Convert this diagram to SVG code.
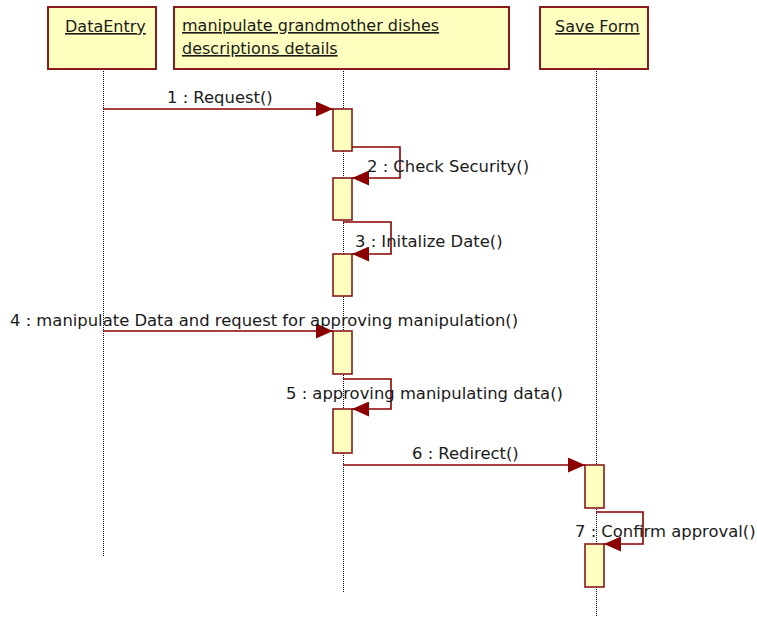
<svg xmlns="http://www.w3.org/2000/svg" width="757" height="617" viewBox="0 0 757 617">
<defs>
<style>
.obj{fill:#FFFFC0;stroke:#8B1A1A;stroke-width:2}
.act{fill:#FFFFC0;stroke:#8B1A1A;stroke-width:1.6}
.life{stroke:#000;stroke-width:1;stroke-dasharray:1 1;fill:none}
.msg{stroke:#8B0000;stroke-width:1.6;fill:none;marker-end:url(#ah)}
.t{font-family:"DejaVu Sans",Verdana,sans-serif;font-size:16px;fill:#1a1a1a}
.m{font-size:16.4px}
.u{text-decoration:underline}
</style>
<marker id="ah" viewBox="0 0 17 15" refX="17" refY="7.5" markerWidth="17" markerHeight="15" markerUnits="userSpaceOnUse" orient="auto">
<path d="M0,0 L17,7.5 L0,15 z" fill="#8B0000"/>
</marker>
</defs>
<rect width="757" height="617" fill="#fff"/>
<g id="lifelines">
<line class="life" x1="103.5" y1="69" x2="103.5" y2="557"/>
<line class="life" x1="343.5" y1="69" x2="343.5" y2="593"/>
<line class="life" x1="596.5" y1="69" x2="596.5" y2="617"/>
</g>
<g id="DataEntry">
<rect class="obj" x="48" y="7" width="108" height="62"/>
<text class="t u" x="65" y="32">DataEntry</text>
</g>
<g id="Manipulate">
<rect class="obj" x="174" y="7" width="335" height="62"/>
<text class="t u" x="182" y="31">manipulate grandmother dishes</text>
<text class="t u" x="182" y="54">descriptions details</text>
</g>
<g id="SaveForm">
<rect class="obj" x="540" y="7" width="108" height="62"/>
<text class="t u" x="555" y="32">Save Form</text>
</g>
<g id="activations">
<rect class="act" x="333" y="109" width="19" height="42"/>
<rect class="act" x="333" y="178" width="19" height="42"/>
<rect class="act" x="333" y="254" width="19" height="42"/>
<rect class="act" x="333" y="331" width="19" height="43"/>
<rect class="act" x="333" y="409" width="19" height="44"/>
<rect class="act" x="585" y="465" width="19" height="43"/>
<rect class="act" x="585" y="544" width="19" height="43"/>
</g>
<g id="connectors">
<line class="msg" x1="103" y1="109" x2="333" y2="109"/>
<polyline class="msg" points="352,147 400,147 400,178 352,178"/>
<polyline class="msg" points="343,222 391,222 391,254 352,254"/>
<line class="msg" x1="103" y1="331" x2="333" y2="331"/>
<polyline class="msg" points="343,379 391,379 391,409 352,409"/>
<line class="msg" x1="343" y1="465" x2="585" y2="465"/>
<polyline class="msg" points="596,512 643,512 643,544 604,544"/>
</g>
<g id="labels">
<text class="t m" x="167" y="103">1 : Request()</text>
<text class="t m" x="367" y="172">2 : Check Security()</text>
<text class="t m" x="355" y="247">3 : Initalize Date()</text>
<text class="t m" x="10" y="326">4 : manipulate Data and request for approving manipulation()</text>
<text class="t m" x="286" y="399">5 : approving manipulating data()</text>
<text class="t m" x="412" y="459">6 : Redirect()</text>
<text class="t m" x="575" y="537">7 : Confirm approval()</text>
</g>
</svg>
